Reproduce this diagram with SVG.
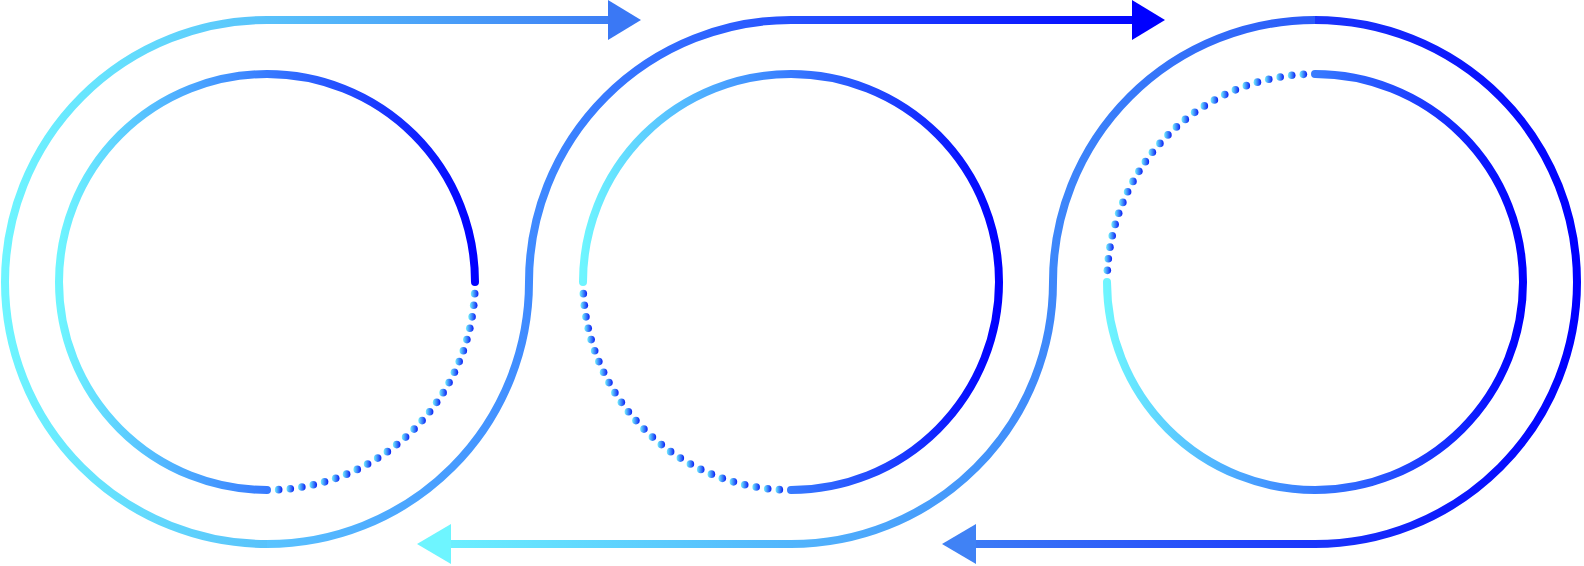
<svg xmlns="http://www.w3.org/2000/svg" width="1584" height="566" viewBox="0 0 1584 566">
<defs>
<linearGradient id="dotGrad" x1="0" y1="0" x2="1" y2="0">
<stop offset="0" stop-color="#70f2ff"/>
<stop offset="1" stop-color="#0a1cf5"/>
</linearGradient>
<linearGradient id="gIn1" gradientUnits="userSpaceOnUse" x1="59" y1="0" x2="475" y2="0">
<stop offset="0" stop-color="#6ef5ff"/>
<stop offset="1" stop-color="#0000ff"/>
</linearGradient>
<linearGradient id="gIn2" gradientUnits="userSpaceOnUse" x1="583" y1="0" x2="999" y2="0">
<stop offset="0" stop-color="#6ef5ff"/>
<stop offset="1" stop-color="#0000ff"/>
</linearGradient>
<linearGradient id="gIn3" gradientUnits="userSpaceOnUse" x1="1107" y1="0" x2="1523" y2="0">
<stop offset="0" stop-color="#6ef5ff"/>
<stop offset="1" stop-color="#0000ff"/>
</linearGradient>
<linearGradient id="gP1" gradientUnits="userSpaceOnUse" x1="5" y1="0" x2="641" y2="0">
<stop offset="0" stop-color="#6ef5ff"/>
<stop offset="1" stop-color="#3a78f5"/>
</linearGradient>
<linearGradient id="gP2" gradientUnits="userSpaceOnUse" x1="267" y1="0" x2="1165" y2="0">
<stop offset="0" stop-color="#5ac4ff"/>
<stop offset="1" stop-color="#0000ff"/>
</linearGradient>
<linearGradient id="gP3" gradientUnits="userSpaceOnUse" x1="417" y1="0" x2="1315" y2="0">
<stop offset="0" stop-color="#6ef5ff"/>
<stop offset="1" stop-color="#2a5af8"/>
</linearGradient>
<linearGradient id="gP4" gradientUnits="userSpaceOnUse" x1="942" y1="0" x2="1577" y2="0">
<stop offset="0" stop-color="#4082f5"/>
<stop offset="1" stop-color="#0000ff"/>
</linearGradient>
</defs>
<style>
.ring{fill:none;stroke-width:8;stroke-linecap:round}
.flow{fill:none;stroke-width:8;stroke-linecap:butt}
.dot{fill:url(#dotGrad)}
</style>
<rect width="1584" height="566" fill="#ffffff"/>

<g id="connectors">
<path class="flow" stroke="url(#gP1)" d="M267,544 A262,262 0 0 1 267,20 L609,20"/>
<polygon fill="#3a78f5" points="608,0 641,20 608,40"/>
<path class="flow" stroke="url(#gP2)" d="M267,544 A262,262 0 0 0 529,282 A262,262 0 0 1 791,20 L1133,20"/>
<polygon fill="#0000ff" points="1132,0 1165,20 1132,40"/>
<path class="flow" stroke="url(#gP4)" d="M1315,20 A262,262 0 0 1 1315,544 L975,544"/>
<polygon fill="#4082f5" points="976,524 942,544 976,564"/>
<path class="flow" stroke="url(#gP3)" d="M1315,20 A262,262 0 0 0 1053,282 A262,262 0 0 1 791,544 L450,544"/>
<polygon fill="#6ef5ff" points="451,524 417,544 451,564"/>
</g>

<g id="node-left">
<path class="ring" stroke="url(#gIn1)" d="M475,282 A208,208 0 1 0 267,490"/>
<g>
<circle class="dot" r="3.8" cx="474.67" cy="293.66"/>
<circle class="dot" r="3.8" cx="473.69" cy="305.29"/>
<circle class="dot" r="3.8" cx="472.06" cy="316.84"/>
<circle class="dot" r="3.8" cx="469.79" cy="328.28"/>
<circle class="dot" r="3.8" cx="466.87" cy="339.58"/>
<circle class="dot" r="3.8" cx="463.33" cy="350.70"/>
<circle class="dot" r="3.8" cx="459.17" cy="361.60"/>
<circle class="dot" r="3.8" cx="454.40" cy="372.25"/>
<circle class="dot" r="3.8" cx="449.05" cy="382.61"/>
<circle class="dot" r="3.8" cx="443.12" cy="392.66"/>
<circle class="dot" r="3.8" cx="436.64" cy="402.37"/>
<circle class="dot" r="3.8" cx="429.62" cy="411.69"/>
<circle class="dot" r="3.8" cx="422.09" cy="420.60"/>
<circle class="dot" r="3.8" cx="414.08" cy="429.08"/>
<circle class="dot" r="3.8" cx="405.60" cy="437.09"/>
<circle class="dot" r="3.8" cx="396.69" cy="444.62"/>
<circle class="dot" r="3.8" cx="387.37" cy="451.64"/>
<circle class="dot" r="3.8" cx="377.66" cy="458.12"/>
<circle class="dot" r="3.8" cx="367.61" cy="464.05"/>
<circle class="dot" r="3.8" cx="357.25" cy="469.40"/>
<circle class="dot" r="3.8" cx="346.60" cy="474.17"/>
<circle class="dot" r="3.8" cx="335.70" cy="478.33"/>
<circle class="dot" r="3.8" cx="324.58" cy="481.87"/>
<circle class="dot" r="3.8" cx="313.28" cy="484.79"/>
<circle class="dot" r="3.8" cx="301.84" cy="487.06"/>
<circle class="dot" r="3.8" cx="290.29" cy="488.69"/>
<circle class="dot" r="3.8" cx="278.66" cy="489.67"/>
</g>
</g>

<g id="node-middle">
<path class="ring" stroke="url(#gIn2)" d="M583,282 A208,208 0 1 1 791,490"/>
<g>
<circle class="dot" r="3.8" cx="779.34" cy="489.67"/>
<circle class="dot" r="3.8" cx="767.71" cy="488.69"/>
<circle class="dot" r="3.8" cx="756.16" cy="487.06"/>
<circle class="dot" r="3.8" cx="744.72" cy="484.79"/>
<circle class="dot" r="3.8" cx="733.42" cy="481.87"/>
<circle class="dot" r="3.8" cx="722.30" cy="478.33"/>
<circle class="dot" r="3.8" cx="711.40" cy="474.17"/>
<circle class="dot" r="3.8" cx="700.75" cy="469.40"/>
<circle class="dot" r="3.8" cx="690.39" cy="464.05"/>
<circle class="dot" r="3.8" cx="680.34" cy="458.12"/>
<circle class="dot" r="3.8" cx="670.63" cy="451.64"/>
<circle class="dot" r="3.8" cx="661.31" cy="444.62"/>
<circle class="dot" r="3.8" cx="652.40" cy="437.09"/>
<circle class="dot" r="3.8" cx="643.92" cy="429.08"/>
<circle class="dot" r="3.8" cx="635.91" cy="420.60"/>
<circle class="dot" r="3.8" cx="628.38" cy="411.69"/>
<circle class="dot" r="3.8" cx="621.36" cy="402.37"/>
<circle class="dot" r="3.8" cx="614.88" cy="392.66"/>
<circle class="dot" r="3.8" cx="608.95" cy="382.61"/>
<circle class="dot" r="3.8" cx="603.60" cy="372.25"/>
<circle class="dot" r="3.8" cx="598.83" cy="361.60"/>
<circle class="dot" r="3.8" cx="594.67" cy="350.70"/>
<circle class="dot" r="3.8" cx="591.13" cy="339.58"/>
<circle class="dot" r="3.8" cx="588.21" cy="328.28"/>
<circle class="dot" r="3.8" cx="585.94" cy="316.84"/>
<circle class="dot" r="3.8" cx="584.31" cy="305.29"/>
<circle class="dot" r="3.8" cx="583.33" cy="293.66"/>
</g>
</g>

<g id="node-right">
<path class="ring" stroke="url(#gIn3)" d="M1315,74 A208,208 0 1 1 1107,282"/>
<g>
<circle class="dot" r="3.8" cx="1107.33" cy="270.34"/>
<circle class="dot" r="3.8" cx="1108.31" cy="258.71"/>
<circle class="dot" r="3.8" cx="1109.94" cy="247.16"/>
<circle class="dot" r="3.8" cx="1112.21" cy="235.72"/>
<circle class="dot" r="3.8" cx="1115.13" cy="224.42"/>
<circle class="dot" r="3.8" cx="1118.67" cy="213.30"/>
<circle class="dot" r="3.8" cx="1122.83" cy="202.40"/>
<circle class="dot" r="3.8" cx="1127.60" cy="191.75"/>
<circle class="dot" r="3.8" cx="1132.95" cy="181.39"/>
<circle class="dot" r="3.8" cx="1138.88" cy="171.34"/>
<circle class="dot" r="3.8" cx="1145.36" cy="161.63"/>
<circle class="dot" r="3.8" cx="1152.38" cy="152.31"/>
<circle class="dot" r="3.8" cx="1159.91" cy="143.40"/>
<circle class="dot" r="3.8" cx="1167.92" cy="134.92"/>
<circle class="dot" r="3.8" cx="1176.40" cy="126.91"/>
<circle class="dot" r="3.8" cx="1185.31" cy="119.38"/>
<circle class="dot" r="3.8" cx="1194.63" cy="112.36"/>
<circle class="dot" r="3.8" cx="1204.34" cy="105.88"/>
<circle class="dot" r="3.8" cx="1214.39" cy="99.95"/>
<circle class="dot" r="3.8" cx="1224.75" cy="94.60"/>
<circle class="dot" r="3.8" cx="1235.40" cy="89.83"/>
<circle class="dot" r="3.8" cx="1246.30" cy="85.67"/>
<circle class="dot" r="3.8" cx="1257.42" cy="82.13"/>
<circle class="dot" r="3.8" cx="1268.72" cy="79.21"/>
<circle class="dot" r="3.8" cx="1280.16" cy="76.94"/>
<circle class="dot" r="3.8" cx="1291.71" cy="75.31"/>
<circle class="dot" r="3.8" cx="1303.34" cy="74.33"/>
</g>
</g>
</svg>
